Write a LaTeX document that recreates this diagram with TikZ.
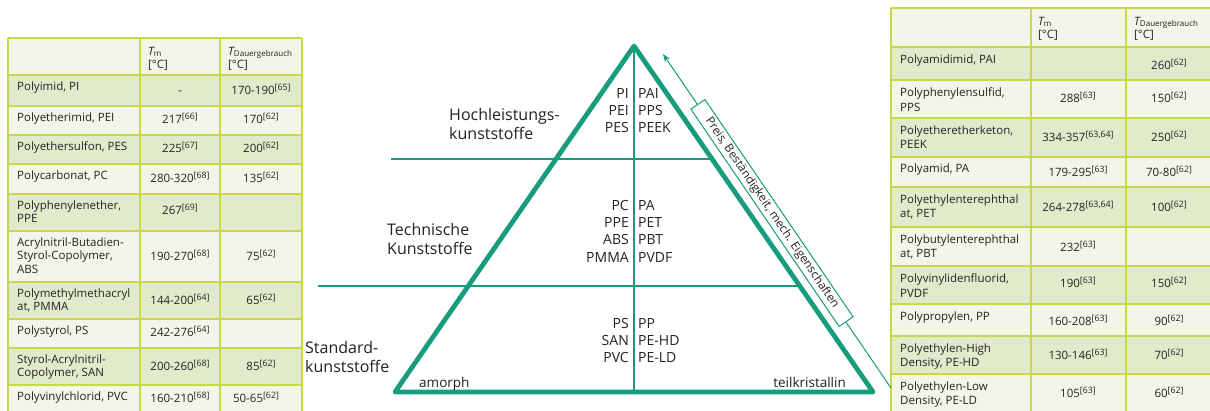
\documentclass[tikz,border=0pt]{standalone}
\usepackage{fontspec}
\setmainfont{Open Sans}
\usetikzlibrary{arrows.meta}
\definecolor{fgreen}{RGB}{23,156,125}
\definecolor{limeb}{RGB}{200,216,72}
\definecolor{rowdark}{RGB}{226,234,204}
\definecolor{rowlight}{RGB}{243,245,233}
\definecolor{txt}{RGB}{35,35,35}
\newcommand\refn[1]{\raisebox{3.6pt}{\fontsize{8.8}{9}\selectfont[#1]}}
\newcommand\tabf{\fontsize{11.5}{13.5}\selectfont}
\newcommand\tabfr{\fontsize{11.5}{14.5}\selectfont}
\begin{document}
\begin{tikzpicture}[x=1pt,y=-1pt,
  nameL/.style={anchor=north west,align=left,inner sep=0pt,text=txt,font=\tabf},
  nameR/.style={anchor=north west,align=left,inner sep=0pt,text=txt,font=\tabfr},
  val/.style={anchor=base,inner sep=0pt,text=txt,font=\tabf},
  hd/.style={anchor=base west,inner sep=0pt,text=txt,font=\tabf},
  grid/.style={draw=limeb,line width=1.6pt},
  poly/.style={inner sep=0pt,text=txt,font=\fontsize{14}{17.3}\selectfont},
  cat/.style={anchor=north west,align=left,inner sep=0pt,text=txt,font=\fontsize{16}{19.5}\selectfont},
  thick tri/.style={draw=fgreen,line width=4.8pt,line join=round},
  thin tri/.style={draw=fgreen,line width=1.3pt}
]
\useasboundingbox (0,0) rectangle (1210,410);
\clip (0,0) rectangle (1210,410);
\fill[white] (0,0) rectangle (1210,410);

% ---------------- left table ----------------
\fill[rowlight] (8,38) rectangle (302,75);
\foreach \t/\b/\c in {75/106/rowdark,106/135/rowlight,135/164/rowdark,164/194/rowlight,194/231/rowdark,231/282/rowlight,282/319/rowdark,319/348/rowlight,348/385/rowdark,385/420/rowlight}
  \fill[\c] (8,\t) rectangle (302,\b);
\foreach \y in {38,75,106,135,164,194,231,282,319,348,385}
  \draw[grid] (8,\y) -- (302,\y);
\foreach \x in {8,140,220,302}
  \draw[grid] (\x,38) -- (\x,420);

\node[hd] (lh1) at (148,55) {\itshape T\textsubscript{\upshape m}};
\node[hd] (lh1b) at (148,68) {[°C]};
\node[hd] (lh2) at (228,55) {\itshape T\textsubscript{\upshape Dauergebrauch}};
\node[hd] (lh2b) at (228,68) {[°C]};

\node[nameL] (l1) at (17,81.5) {Polyimid, PI};
\node[nameL] (l2) at (17,112.5) {Polyetherimid, PEI};
\node[nameL] (l3) at (17,141.5) {Polyethersulfon, PES};
\node[nameL] (l4) at (17,170.5) {Polycarbonat, PC};
\node[nameL] (l5) at (17,200.5) {Polyphenylenether,\\PPE};
\node[nameL] (l6) at (17,237.5) {Acrylnitril-Butadien-\\Styrol-Copolymer,\\ABS};
\node[nameL] (l7) at (17,288.5) {Polymethylmethacryl\\at, PMMA};
\node[nameL] (l8) at (17,325.5) {Polystyrol, PS};
\node[nameL] (l9) at (17,354.5) {Styrol-Acrylnitril-\\Copolymer, SAN};
\node[nameL] (l10) at (17,391.5) {Polyvinylchlorid, PVC};

\node[val] (l1m) at (180,94) {-};
\node[val] (l1d) at (261,94) {170-190\refn{65}};
\node[val] (l2m) at (180,123.5) {217\refn{66}};
\node[val] (l2d) at (261,123.5) {170\refn{62}};
\node[val] (l3m) at (180,152.5) {225\refn{67}};
\node[val] (l3d) at (261,152.5) {200\refn{62}};
\node[val] (l4m) at (180,182.5) {280-320\refn{68}};
\node[val] (l4d) at (261,182.5) {135\refn{62}};
\node[val] (l5m) at (180,214) {267\refn{69}};
\node[val] (l6m) at (180,260) {190-270\refn{68}};
\node[val] (l6d) at (261,260) {75\refn{62}};
\node[val] (l7m) at (180,304) {144-200\refn{64}};
\node[val] (l7d) at (261,304) {65\refn{62}};
\node[val] (l8m) at (180,336) {242-276\refn{64}};
\node[val] (l9m) at (180,370) {200-260\refn{68}};
\node[val] (l9d) at (261,370) {85\refn{62}};
\node[val] (l10m) at (180,402) {160-210\refn{68}};
\node[val] (l10d) at (256,402) {50-65\refn{62}};

% ---------------- right table ----------------
\fill[rowlight] (891,8) rectangle (1213,47);
\foreach \t/\b/\c in {47/80/rowdark,80/118/rowlight,118/157/rowdark,157/187/rowlight,187/227/rowdark,227/266/rowlight,266/304/rowdark,304/336/rowlight,336/374/rowdark,374/420/rowlight}
  \fill[\c] (891,\t) rectangle (1213,\b);
\foreach \y in {8,47,80,118,157,187,227,266,304,336,374}
  \draw[grid] (891,\y) -- (1213,\y);
\foreach \x in {891,1031,1126}
  \draw[grid] (\x,8) -- (\x,420);

\node[hd] (rh1) at (1038,25) {\itshape T\textsubscript{\upshape m}};
\node[hd] (rh1b) at (1038,38) {[°C]};
\node[hd] (rh2) at (1134,25) {\itshape T\textsubscript{\upshape Dauergebrauch}};
\node[hd] (rh2b) at (1134,38) {[°C]};

\node[nameR] (r1) at (900,54.5) {Polyamidimid, PAI};
\node[nameR] (r2) at (900,87.5) {Polyphenylensulfid,\\PPS};
\node[nameR] (r3) at (900,125.5) {Polyetheretherketon,\\PEEK};
\node[nameR] (r4) at (900,163.5) {Polyamid, PA};
\node[nameR] (r5) at (900,194.5) {Polyethylenterephthal\\at, PET};
\node[nameR] (r6) at (900,234.5) {Polybutylenterephthal\\at, PBT};
\node[nameR] (r7) at (900,273.5) {Polyvinylidenfluorid,\\PVDF};
\node[nameR] (r8) at (900,311.5) {Polypropylen, PP};
\node[nameR] (r9) at (900,343.5) {Polyethylen-High\\Density, PE-HD};
\node[nameR] (r10) at (900,381.5) {Polyethylen-Low\\Density, PE-LD};

\node[val] (r1d) at (1169,69) {260\refn{62}};
\node[val] (r2m) at (1078,102) {288\refn{63}};
\node[val] (r2d) at (1169,102) {150\refn{62}};
\node[val] (r3m) at (1078,141) {334-357\refn{63,64}};
\node[val] (r3d) at (1169,141) {250\refn{62}};
\node[val] (r4m) at (1078,176) {179-295\refn{63}};
\node[val] (r4d) at (1169,176) {70-80\refn{62}};
\node[val] (r5m) at (1078,211) {264-278\refn{63,64}};
\node[val] (r5d) at (1169,211) {100\refn{62}};
\node[val] (r6m) at (1078,251) {232\refn{63}};
\node[val] (r7m) at (1078,287) {190\refn{63}};
\node[val] (r7d) at (1169,287) {150\refn{62}};
\node[val] (r8m) at (1078,325) {160-208\refn{63}};
\node[val] (r8d) at (1169,325) {90\refn{62}};
\node[val] (r9m) at (1078,359) {130-146\refn{63}};
\node[val] (r9d) at (1169,359) {70\refn{62}};
\node[val] (r10m) at (1078,397) {105\refn{63}};
\node[val] (r10d) at (1169,397) {60\refn{62}};

% ---------------- pyramid ----------------
\coordinate (A) at (634,46);
\coordinate (B) at (395,392);
\coordinate (C) at (873,392);
\coordinate (D) at (634,392);
\coordinate (h1l) at (391,159);
\coordinate (h1r) at (712,159);
\coordinate (h2l) at (318,286);
\coordinate (h2r) at (800,286);
\draw[thin tri] (A) -- (D);
\draw[thin tri] (h1l) -- (h1r);
\draw[thin tri] (h2l) -- (h2r);
\draw[thick tri] (A) -- (B) -- (C) -- cycle;

\node[poly,anchor=north east,align=right] (p1l) at (629,88) {PI\\PEI\\PES};
\node[poly,anchor=north west,align=left] (p1r) at (638,88) {PAI\\PPS\\PEEK};
\node[poly,anchor=north east,align=right] (p2l) at (629,200) {PC\\PPE\\ABS\\PMMA};
\node[poly,anchor=north west,align=left] (p2r) at (638,200) {PA\\PET\\PBT\\PVDF};
\node[poly,anchor=north east,align=right] (p3l) at (629,318) {PS\\SAN\\PVC};
\node[poly,anchor=north west,align=left] (p3r) at (638,318) {PP\\PE-HD\\PE-LD};

\node[cat] (c1) at (449,108) {Hochleistungs-\\kunststoffe};
\node[cat] (c2) at (387,223) {Technische\\Kunststoffe};
\node[cat] (c3) at (305,341) {Standard-\\kunststoffe};

\node[anchor=base west,inner sep=0pt,text=txt,font=\fontsize{13.5}{15}\selectfont] (am) at (419,387) {amorph};
\node[anchor=base east,inner sep=0pt,text=txt,font=\fontsize{13.5}{15}\selectfont] (tk) at (846,387) {teilkristallin};

% ---------------- arrow ----------------
\coordinate (tail) at (891,388);
\coordinate (tip) at (663,54);
\draw[fgreen,line width=1pt,-{Stealth[length=8pt,width=6pt]}] (tail) -- (tip);
\node[draw=fgreen,fill=white,line width=1pt,minimum width=263pt,minimum height=17pt,inner sep=0pt,
      rotate=-55.7,text=txt,font=\fontsize{11.8}{13}\selectfont] (lbl) at (772,213)
      {Preis, Beständigkeit, mech. Eigenschaften};
\end{tikzpicture}
\end{document}
